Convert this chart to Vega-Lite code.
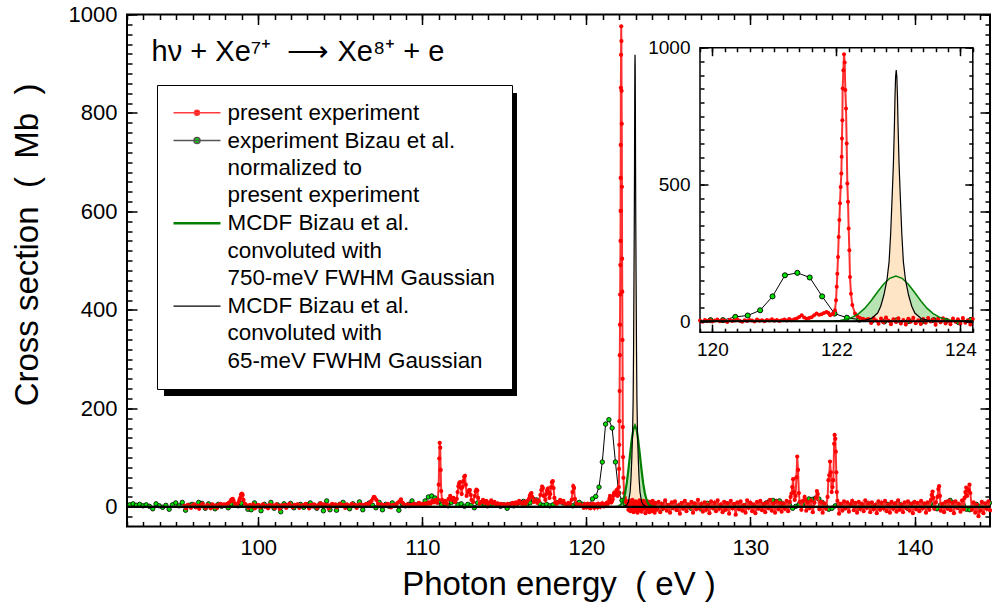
{
"$schema": "https://vega.github.io/schema/vega-lite/v6.json",
"width": 863, "height": 512,
"autosize": {"type": "none"},
"padding": {"left": 127, "top": 14.5, "right": 2, "bottom": 83.5},
"background": "white",
"config": {
  "view": {"stroke": "black", "strokeWidth": 2},
  "font": "Liberation Sans",
  "axis": {"domain": false, "grid": false, "labelFont": "Liberation Sans", "labelFontSize": 22, "labelColor": "black", "tickColor": "black", "tickWidth": 1.5, "titleFont": "Liberation Sans", "titleFontSize": 33, "titleFontWeight": "normal", "titleColor": "black", "labelOverlap": false, "labelFlush": false, "format": "d"},
  "style": {"guide-label": {"lineHeight": 27.4}}
},
"datasets": {
"leg": [{"s":"present experiment"},{"s":"experiment Bizau et al."},{"s":"MCDF 750 meV"},{"s":"MCDF 65 meV"}],
"g750": [{"E":92,"cs":0},{"E":119.8,"cs":0},{"E":121.76,"cs":0},{"E":121.96,"cs":1.2},{"E":122.06,"cs":3},{"E":122.16,"cs":7},{"E":122.26,"cs":15},{"E":122.36,"cs":28},{"E":122.46,"cs":48},{"E":122.56,"cs":75},{"E":122.66,"cs":106},{"E":122.76,"cs":135},{"E":122.86,"cs":157},{"E":122.96,"cs":165},{"E":123.06,"cs":157},{"E":123.16,"cs":135},{"E":123.26,"cs":106},{"E":123.36,"cs":75},{"E":123.46,"cs":48},{"E":123.56,"cs":28},{"E":123.66,"cs":15},{"E":123.76,"cs":7},{"E":123.86,"cs":3},{"E":123.96,"cs":1.2},{"E":124.16,"cs":0},{"E":124.2,"cs":0},{"E":144.6,"cs":0}],
"g65": [{"E":92,"cs":0},{"E":119.8,"cs":0},{"E":122.265,"cs":0},{"E":122.465,"cs":4},{"E":122.565,"cs":10},{"E":122.665,"cs":30},{"E":122.715,"cs":55},{"E":122.765,"cs":95},{"E":122.815,"cs":150},{"E":122.85,"cs":218},{"E":122.875,"cs":320},{"E":122.9,"cs":460},{"E":122.92,"cs":580},{"E":122.935,"cs":710},{"E":122.945,"cs":820},{"E":122.955,"cs":895},{"E":122.965,"cs":918},{"E":122.975,"cs":895},{"E":122.985,"cs":820},{"E":122.995,"cs":710},{"E":123.01,"cs":580},{"E":123.03,"cs":460},{"E":123.055,"cs":320},{"E":123.08,"cs":218},{"E":123.115,"cs":150},{"E":123.165,"cs":95},{"E":123.215,"cs":55},{"E":123.265,"cs":30},{"E":123.365,"cs":10},{"E":123.465,"cs":4},{"E":123.665,"cs":0},{"E":124.2,"cs":0},{"E":144.6,"cs":0}],
"biz": [{"E":92.17,"cs":4},{"E":92.37,"cs":6},{"E":92.57,"cs":3},{"E":92.77,"cs":5},{"E":92.97,"cs":2},{"E":93.17,"cs":4},{"E":93.37,"cs":1},{"E":93.57,"cs":-4},{"E":93.77,"cs":6},{"E":93.97,"cs":2},{"E":94.17,"cs":-1},{"E":94.37,"cs":3},{"E":94.57,"cs":-5},{"E":94.77,"cs":4},{"E":94.97,"cs":8},{"E":95.17,"cs":2},{"E":95.37,"cs":9},{"E":95.57,"cs":-7},{"E":95.77,"cs":3},{"E":95.97,"cs":5},{"E":96.17,"cs":1},{"E":96.37,"cs":9},{"E":96.57,"cs":7},{"E":96.77,"cs":-3},{"E":96.97,"cs":6},{"E":97.17,"cs":2},{"E":97.37,"cs":-4},{"E":97.57,"cs":5},{"E":97.77,"cs":1},{"E":97.97,"cs":3},{"E":98.17,"cs":-2},{"E":98.37,"cs":6},{"E":98.57,"cs":4},{"E":98.77,"cs":2},{"E":98.97,"cs":7},{"E":99.17,"cs":3},{"E":99.37,"cs":-5},{"E":99.57,"cs":-6},{"E":99.77,"cs":8},{"E":99.97,"cs":2},{"E":100.17,"cs":-8},{"E":100.37,"cs":5},{"E":100.57,"cs":1},{"E":100.77,"cs":9},{"E":100.97,"cs":-3},{"E":101.17,"cs":4},{"E":101.37,"cs":-10},{"E":101.57,"cs":6},{"E":101.77,"cs":2},{"E":101.97,"cs":7},{"E":102.17,"cs":-2},{"E":102.37,"cs":3},{"E":102.57,"cs":5},{"E":102.77,"cs":-1},{"E":102.97,"cs":4},{"E":103.17,"cs":8},{"E":103.37,"cs":2},{"E":103.57,"cs":-3},{"E":103.77,"cs":6},{"E":103.97,"cs":-8},{"E":104.17,"cs":12},{"E":104.37,"cs":-6},{"E":104.57,"cs":3},{"E":104.77,"cs":-7},{"E":104.97,"cs":5},{"E":105.17,"cs":9},{"E":105.37,"cs":2},{"E":105.57,"cs":-4},{"E":105.77,"cs":6},{"E":105.97,"cs":1},{"E":106.17,"cs":10},{"E":106.37,"cs":-6},{"E":106.57,"cs":4},{"E":106.77,"cs":8},{"E":106.97,"cs":3},{"E":107.17,"cs":-2},{"E":107.37,"cs":9},{"E":107.57,"cs":-6},{"E":107.77,"cs":5},{"E":107.97,"cs":1},{"E":108.17,"cs":8},{"E":108.37,"cs":3},{"E":108.57,"cs":-7},{"E":108.77,"cs":7},{"E":108.97,"cs":2},{"E":109.17,"cs":5},{"E":109.37,"cs":12},{"E":109.57,"cs":4},{"E":109.77,"cs":6},{"E":109.97,"cs":3},{"E":110.17,"cs":12},{"E":110.37,"cs":20},{"E":110.57,"cs":22},{"E":110.77,"cs":18},{"E":110.97,"cs":10},{"E":111.17,"cs":4},{"E":111.37,"cs":7},{"E":111.57,"cs":2},{"E":111.77,"cs":9},{"E":111.97,"cs":11},{"E":112.17,"cs":4},{"E":112.37,"cs":6},{"E":112.57,"cs":1},{"E":112.77,"cs":5},{"E":112.97,"cs":3},{"E":113.17,"cs":-2},{"E":113.37,"cs":8},{"E":113.57,"cs":4},{"E":113.77,"cs":6},{"E":113.97,"cs":2},{"E":114.17,"cs":7},{"E":114.37,"cs":3},{"E":114.57,"cs":5},{"E":114.77,"cs":1},{"E":114.97,"cs":4},{"E":115.17,"cs":-3},{"E":115.37,"cs":5},{"E":115.57,"cs":2},{"E":115.77,"cs":6},{"E":115.97,"cs":9},{"E":116.17,"cs":11},{"E":116.37,"cs":5},{"E":116.57,"cs":8},{"E":116.77,"cs":15},{"E":116.97,"cs":14},{"E":117.17,"cs":6},{"E":117.37,"cs":3},{"E":117.57,"cs":5},{"E":117.77,"cs":2},{"E":117.97,"cs":4},{"E":118.17,"cs":9},{"E":118.37,"cs":10},{"E":118.57,"cs":8},{"E":118.77,"cs":3},{"E":118.97,"cs":5},{"E":119.17,"cs":2},{"E":119.37,"cs":7},{"E":119.57,"cs":9},{"E":119.77,"cs":5},{"E":119.97,"cs":4},{"E":120.17,"cs":4},{"E":120.37,"cs":16},{"E":120.57,"cs":21},{"E":120.77,"cs":40},{"E":120.97,"cs":91},{"E":121.17,"cs":168},{"E":121.37,"cs":177},{"E":121.57,"cs":160},{"E":121.77,"cs":91},{"E":121.97,"cs":28},{"E":122.17,"cs":13},{"E":122.37,"cs":6},{"E":122.57,"cs":2},{"E":122.77,"cs":-1},{"E":122.97,"cs":3},{"E":123.17,"cs":1},{"E":123.37,"cs":-2},{"E":123.57,"cs":4},{"E":123.77,"cs":2},{"E":123.97,"cs":-3},{"E":124.17,"cs":5},{"E":124.37,"cs":1},{"E":124.57,"cs":-4},{"E":124.77,"cs":6},{"E":124.97,"cs":2},{"E":125.17,"cs":-2},{"E":125.37,"cs":4},{"E":125.57,"cs":-5},{"E":125.77,"cs":3},{"E":125.97,"cs":6},{"E":126.17,"cs":1},{"E":126.37,"cs":-3},{"E":126.57,"cs":5},{"E":126.77,"cs":2},{"E":126.97,"cs":-4},{"E":127.17,"cs":3},{"E":127.37,"cs":7},{"E":127.57,"cs":1},{"E":127.77,"cs":-2},{"E":127.97,"cs":4},{"E":128.17,"cs":2},{"E":128.37,"cs":-5},{"E":128.57,"cs":6},{"E":128.77,"cs":3},{"E":128.97,"cs":-1},{"E":129.17,"cs":5},{"E":129.37,"cs":2},{"E":129.57,"cs":-3},{"E":129.77,"cs":4},{"E":129.97,"cs":6},{"E":130.17,"cs":1},{"E":130.37,"cs":-2},{"E":130.57,"cs":5},{"E":130.77,"cs":3},{"E":130.97,"cs":8},{"E":131.17,"cs":12},{"E":131.37,"cs":13},{"E":131.57,"cs":11},{"E":131.77,"cs":12},{"E":131.97,"cs":6},{"E":132.17,"cs":2},{"E":132.37,"cs":4},{"E":132.57,"cs":-3},{"E":132.77,"cs":1},{"E":132.97,"cs":5},{"E":133.17,"cs":3},{"E":133.37,"cs":8},{"E":133.57,"cs":16},{"E":133.77,"cs":15},{"E":133.97,"cs":18},{"E":134.17,"cs":16},{"E":134.37,"cs":9},{"E":134.57,"cs":3},{"E":134.77,"cs":-5},{"E":134.97,"cs":-3},{"E":135.17,"cs":2},{"E":135.37,"cs":4},{"E":135.57,"cs":1},{"E":135.77,"cs":-2},{"E":135.97,"cs":3},{"E":136.17,"cs":5},{"E":136.37,"cs":1},{"E":136.57,"cs":-3},{"E":136.77,"cs":4},{"E":136.97,"cs":2},{"E":137.17,"cs":6},{"E":137.37,"cs":3},{"E":137.57,"cs":-1},{"E":137.77,"cs":4},{"E":137.97,"cs":2},{"E":138.17,"cs":-2},{"E":138.37,"cs":5},{"E":138.57,"cs":3},{"E":138.77,"cs":1},{"E":138.97,"cs":8},{"E":139.17,"cs":4},{"E":139.37,"cs":2},{"E":139.57,"cs":-3},{"E":139.77,"cs":5},{"E":139.97,"cs":7},{"E":140.17,"cs":3},{"E":140.37,"cs":-2},{"E":140.57,"cs":4},{"E":140.77,"cs":1},{"E":140.97,"cs":6},{"E":141.17,"cs":2},{"E":141.37,"cs":-4},{"E":141.57,"cs":3},{"E":141.77,"cs":5},{"E":141.97,"cs":9},{"E":142.17,"cs":13},{"E":142.37,"cs":8},{"E":142.57,"cs":3},{"E":142.77,"cs":-2},{"E":142.97,"cs":4},{"E":143.17,"cs":-5},{"E":143.37,"cs":-6},{"E":143.57,"cs":2},{"E":143.77,"cs":5},{"E":143.97,"cs":1},{"E":144.17,"cs":-3},{"E":144.37,"cs":4},{"E":144.57,"cs":8}],
"red": [{"E":95.5,"cs":2},{"E":95.6,"cs":-3},{"E":95.7,"cs":4},{"E":95.8,"cs":1},{"E":95.9,"cs":-2},{"E":96,"cs":3},{"E":96.1,"cs":5},{"E":96.2,"cs":-1},{"E":96.3,"cs":2},{"E":96.4,"cs":-4},{"E":96.5,"cs":3},{"E":96.6,"cs":6},{"E":96.7,"cs":1},{"E":96.8,"cs":-2},{"E":96.9,"cs":4},{"E":97,"cs":2},{"E":97.1,"cs":-3},{"E":97.2,"cs":5},{"E":97.3,"cs":0},{"E":97.4,"cs":3},{"E":97.5,"cs":-2},{"E":97.6,"cs":4},{"E":97.7,"cs":6},{"E":97.8,"cs":2},{"E":97.9,"cs":5},{"E":98,"cs":3},{"E":98.1,"cs":6},{"E":98.2,"cs":8},{"E":98.3,"cs":11},{"E":98.35,"cs":14},{"E":98.4,"cs":15},{"E":98.45,"cs":16},{"E":98.5,"cs":12},{"E":98.6,"cs":6},{"E":98.7,"cs":4},{"E":98.8,"cs":9},{"E":98.85,"cs":14},{"E":98.9,"cs":18},{"E":98.95,"cs":25},{"E":99,"cs":27},{"E":99.05,"cs":24},{"E":99.1,"cs":14},{"E":99.2,"cs":6},{"E":99.3,"cs":3},{"E":99.4,"cs":-2},{"E":99.5,"cs":4},{"E":99.6,"cs":1},{"E":99.7,"cs":5},{"E":99.8,"cs":-3},{"E":99.9,"cs":2},{"E":100,"cs":4},{"E":100.1,"cs":-1},{"E":100.2,"cs":3},{"E":100.3,"cs":5},{"E":100.4,"cs":0},{"E":100.5,"cs":2},{"E":100.6,"cs":-3},{"E":100.7,"cs":4},{"E":100.8,"cs":1},{"E":100.9,"cs":3},{"E":101,"cs":-2},{"E":101.1,"cs":5},{"E":101.2,"cs":2},{"E":101.3,"cs":-4},{"E":101.4,"cs":3},{"E":101.5,"cs":1},{"E":101.6,"cs":4},{"E":101.7,"cs":-2},{"E":101.8,"cs":3},{"E":101.9,"cs":6},{"E":102,"cs":2},{"E":102.1,"cs":-1},{"E":102.2,"cs":4},{"E":102.3,"cs":2},{"E":102.4,"cs":5},{"E":102.5,"cs":-2},{"E":102.6,"cs":3},{"E":102.7,"cs":1},{"E":102.8,"cs":4},{"E":102.9,"cs":6},{"E":103,"cs":2},{"E":103.1,"cs":-3},{"E":103.2,"cs":4},{"E":103.3,"cs":1},{"E":103.4,"cs":5},{"E":103.5,"cs":3},{"E":103.6,"cs":-2},{"E":103.7,"cs":4},{"E":103.8,"cs":7},{"E":103.9,"cs":2},{"E":104,"cs":5},{"E":104.1,"cs":1},{"E":104.2,"cs":4},{"E":104.3,"cs":-3},{"E":104.4,"cs":3},{"E":104.5,"cs":6},{"E":104.6,"cs":2},{"E":104.7,"cs":5},{"E":104.8,"cs":-1},{"E":104.9,"cs":3},{"E":105,"cs":6},{"E":105.1,"cs":2},{"E":105.2,"cs":4},{"E":105.3,"cs":-2},{"E":105.4,"cs":5},{"E":105.5,"cs":3},{"E":105.6,"cs":1},{"E":105.7,"cs":6},{"E":105.8,"cs":2},{"E":105.9,"cs":4},{"E":106,"cs":-2},{"E":106.1,"cs":3},{"E":106.2,"cs":5},{"E":106.3,"cs":1},{"E":106.4,"cs":4},{"E":106.5,"cs":2},{"E":106.6,"cs":6},{"E":106.7,"cs":3},{"E":106.8,"cs":8},{"E":106.9,"cs":12},{"E":107,"cs":17},{"E":107.05,"cs":20},{"E":107.1,"cs":19},{"E":107.2,"cs":14},{"E":107.3,"cs":6},{"E":107.4,"cs":3},{"E":107.5,"cs":5},{"E":107.6,"cs":1},{"E":107.7,"cs":4},{"E":107.8,"cs":2},{"E":107.9,"cs":6},{"E":108,"cs":3},{"E":108.1,"cs":-1},{"E":108.2,"cs":4},{"E":108.3,"cs":2},{"E":108.4,"cs":5},{"E":108.5,"cs":8},{"E":108.6,"cs":11},{"E":108.7,"cs":15},{"E":108.8,"cs":8},{"E":108.9,"cs":4},{"E":109,"cs":2},{"E":109.1,"cs":5},{"E":109.2,"cs":1},{"E":109.3,"cs":4},{"E":109.4,"cs":3},{"E":109.5,"cs":6},{"E":109.6,"cs":2},{"E":109.7,"cs":5},{"E":109.8,"cs":8},{"E":109.9,"cs":4},{"E":110,"cs":6},{"E":110.1,"cs":3},{"E":110.2,"cs":7},{"E":110.3,"cs":4},{"E":110.4,"cs":9},{"E":110.5,"cs":6},{"E":110.6,"cs":12},{"E":110.7,"cs":9},{"E":110.8,"cs":14},{"E":110.9,"cs":8},{"E":110.95,"cs":15},{"E":111,"cs":45},{"E":111.03,"cs":98},{"E":111.06,"cs":130},{"E":111.09,"cs":120},{"E":111.12,"cs":75},{"E":111.15,"cs":32},{"E":111.2,"cs":14},{"E":111.3,"cs":8},{"E":111.4,"cs":12},{"E":111.5,"cs":6},{"E":111.6,"cs":16},{"E":111.7,"cs":22},{"E":111.8,"cs":14},{"E":111.9,"cs":18},{"E":112,"cs":10},{"E":112.1,"cs":16},{"E":112.15,"cs":30},{"E":112.2,"cs":42},{"E":112.25,"cs":48},{"E":112.3,"cs":50},{"E":112.35,"cs":38},{"E":112.4,"cs":26},{"E":112.45,"cs":40},{"E":112.5,"cs":52},{"E":112.55,"cs":61},{"E":112.6,"cs":63},{"E":112.65,"cs":45},{"E":112.7,"cs":22},{"E":112.8,"cs":30},{"E":112.85,"cs":34},{"E":112.9,"cs":34},{"E":112.95,"cs":24},{"E":113,"cs":14},{"E":113.1,"cs":10},{"E":113.2,"cs":22},{"E":113.25,"cs":31},{"E":113.3,"cs":35},{"E":113.35,"cs":33},{"E":113.4,"cs":18},{"E":113.5,"cs":6},{"E":113.6,"cs":10},{"E":113.7,"cs":14},{"E":113.8,"cs":8},{"E":113.9,"cs":12},{"E":114,"cs":5},{"E":114.1,"cs":9},{"E":114.2,"cs":13},{"E":114.3,"cs":7},{"E":114.4,"cs":10},{"E":114.5,"cs":4},{"E":114.6,"cs":7},{"E":114.7,"cs":3},{"E":114.8,"cs":6},{"E":114.9,"cs":2},{"E":115,"cs":5},{"E":115.1,"cs":3},{"E":115.2,"cs":6},{"E":115.3,"cs":2},{"E":115.4,"cs":5},{"E":115.5,"cs":8},{"E":115.6,"cs":4},{"E":115.7,"cs":9},{"E":115.8,"cs":6},{"E":115.9,"cs":12},{"E":116,"cs":8},{"E":116.1,"cs":5},{"E":116.2,"cs":10},{"E":116.3,"cs":6},{"E":116.4,"cs":12},{"E":116.5,"cs":16},{"E":116.55,"cs":22},{"E":116.6,"cs":26},{"E":116.65,"cs":28},{"E":116.7,"cs":20},{"E":116.8,"cs":10},{"E":116.9,"cs":14},{"E":117,"cs":8},{"E":117.1,"cs":12},{"E":117.2,"cs":24},{"E":117.25,"cs":34},{"E":117.3,"cs":41},{"E":117.35,"cs":38},{"E":117.4,"cs":22},{"E":117.5,"cs":14},{"E":117.55,"cs":26},{"E":117.6,"cs":33},{"E":117.65,"cs":37},{"E":117.7,"cs":30},{"E":117.75,"cs":18},{"E":117.8,"cs":26},{"E":117.85,"cs":40},{"E":117.9,"cs":50},{"E":117.95,"cs":52},{"E":118,"cs":38},{"E":118.05,"cs":18},{"E":118.1,"cs":9},{"E":118.2,"cs":6},{"E":118.3,"cs":10},{"E":118.4,"cs":14},{"E":118.5,"cs":9},{"E":118.6,"cs":12},{"E":118.7,"cs":6},{"E":118.8,"cs":4},{"E":118.9,"cs":8},{"E":119,"cs":6},{"E":119.1,"cs":14},{"E":119.15,"cs":30},{"E":119.2,"cs":42},{"E":119.25,"cs":38},{"E":119.3,"cs":16},{"E":119.4,"cs":6},{"E":119.5,"cs":3},{"E":119.6,"cs":5},{"E":119.7,"cs":2},{"E":119.8,"cs":3},{"E":119.84,"cs":-2},{"E":119.88,"cs":5},{"E":119.92,"cs":1},{"E":119.96,"cs":4},{"E":120,"cs":-1},{"E":120.04,"cs":3},{"E":120.08,"cs":6},{"E":120.12,"cs":0},{"E":120.16,"cs":4},{"E":120.2,"cs":2},{"E":120.24,"cs":-3},{"E":120.28,"cs":5},{"E":120.32,"cs":1},{"E":120.36,"cs":3},{"E":120.4,"cs":6},{"E":120.44,"cs":2},{"E":120.48,"cs":-2},{"E":120.52,"cs":4},{"E":120.56,"cs":1},{"E":120.6,"cs":5},{"E":120.64,"cs":3},{"E":120.68,"cs":-1},{"E":120.72,"cs":6},{"E":120.76,"cs":2},{"E":120.8,"cs":4},{"E":120.84,"cs":0},{"E":120.88,"cs":5},{"E":120.92,"cs":3},{"E":120.96,"cs":7},{"E":121,"cs":2},{"E":121.04,"cs":5},{"E":121.08,"cs":1},{"E":121.12,"cs":4},{"E":121.16,"cs":6},{"E":121.2,"cs":3},{"E":121.24,"cs":8},{"E":121.28,"cs":4},{"E":121.32,"cs":7},{"E":121.36,"cs":10},{"E":121.4,"cs":16},{"E":121.44,"cs":22},{"E":121.48,"cs":14},{"E":121.52,"cs":9},{"E":121.56,"cs":12},{"E":121.6,"cs":15},{"E":121.64,"cs":22},{"E":121.68,"cs":28},{"E":121.72,"cs":24},{"E":121.76,"cs":26},{"E":121.8,"cs":30},{"E":121.84,"cs":34},{"E":121.87,"cs":30},{"E":121.9,"cs":22},{"E":121.93,"cs":26},{"E":121.95,"cs":28},{"E":121.977,"cs":40},{"E":121.994,"cs":77},{"E":122.005,"cs":126},{"E":122.015,"cs":174},{"E":122.026,"cs":235},{"E":122.037,"cs":308},{"E":122.048,"cs":370},{"E":122.058,"cs":431},{"E":122.069,"cs":491},{"E":122.08,"cs":540},{"E":122.085,"cs":601},{"E":122.09,"cs":668},{"E":122.096,"cs":735},{"E":122.101,"cs":851},{"E":122.112,"cs":918},{"E":122.123,"cs":976},{"E":122.134,"cs":946},{"E":122.144,"cs":845},{"E":122.155,"cs":778},{"E":122.166,"cs":650},{"E":122.176,"cs":504},{"E":122.187,"cs":437},{"E":122.198,"cs":339},{"E":122.209,"cs":260},{"E":122.219,"cs":162},{"E":122.235,"cs":101},{"E":122.257,"cs":59},{"E":122.3,"cs":28},{"E":122.34,"cs":18},{"E":122.381,"cs":12},{"E":122.43,"cs":9},{"E":122.489,"cs":6},{"E":122.52,"cs":8},{"E":122.56,"cs":-6},{"E":122.6,"cs":12},{"E":122.64,"cs":3},{"E":122.68,"cs":-9},{"E":122.72,"cs":10},{"E":122.76,"cs":-4},{"E":122.8,"cs":14},{"E":122.84,"cs":2},{"E":122.88,"cs":-11},{"E":122.92,"cs":7},{"E":122.96,"cs":-3},{"E":123,"cs":11},{"E":123.04,"cs":-8},{"E":123.08,"cs":5},{"E":123.12,"cs":-12},{"E":123.16,"cs":9},{"E":123.2,"cs":-2},{"E":123.24,"cs":13},{"E":123.28,"cs":-7},{"E":123.32,"cs":4},{"E":123.36,"cs":-10},{"E":123.4,"cs":8},{"E":123.44,"cs":-5},{"E":123.48,"cs":12},{"E":123.52,"cs":-1},{"E":123.56,"cs":6},{"E":123.6,"cs":-13},{"E":123.64,"cs":9},{"E":123.68,"cs":-4},{"E":123.72,"cs":11},{"E":123.76,"cs":-8},{"E":123.8,"cs":3},{"E":123.84,"cs":-11},{"E":123.88,"cs":10},{"E":123.92,"cs":-2},{"E":123.96,"cs":7},{"E":124,"cs":-9},{"E":124.04,"cs":12},{"E":124.08,"cs":-5},{"E":124.12,"cs":4},{"E":124.16,"cs":-12},{"E":124.2,"cs":8},{"E":124.3,"cs":-6},{"E":124.4,"cs":10},{"E":124.5,"cs":-11},{"E":124.6,"cs":6},{"E":124.7,"cs":-3},{"E":124.8,"cs":13},{"E":124.9,"cs":-8},{"E":125,"cs":4},{"E":125.1,"cs":-12},{"E":125.2,"cs":9},{"E":125.3,"cs":-2},{"E":125.4,"cs":11},{"E":125.5,"cs":-7},{"E":125.6,"cs":3},{"E":125.7,"cs":-14},{"E":125.8,"cs":8},{"E":125.9,"cs":-4},{"E":126,"cs":12},{"E":126.1,"cs":-9},{"E":126.2,"cs":5},{"E":126.3,"cs":-1},{"E":126.4,"cs":10},{"E":126.5,"cs":-12},{"E":126.6,"cs":7},{"E":126.7,"cs":-5},{"E":126.8,"cs":14},{"E":126.9,"cs":-3},{"E":127,"cs":6},{"E":127.1,"cs":-10},{"E":127.2,"cs":9},{"E":127.3,"cs":-6},{"E":127.4,"cs":4},{"E":127.5,"cs":-13},{"E":127.6,"cs":11},{"E":127.7,"cs":-2},{"E":127.8,"cs":8},{"E":127.9,"cs":-9},{"E":128,"cs":13},{"E":128.1,"cs":-4},{"E":128.2,"cs":5},{"E":128.3,"cs":-11},{"E":128.4,"cs":10},{"E":128.5,"cs":-6},{"E":128.6,"cs":7},{"E":128.7,"cs":-14},{"E":128.8,"cs":12},{"E":128.9,"cs":-3},{"E":129,"cs":6},{"E":129.1,"cs":-16},{"E":129.2,"cs":9},{"E":129.3,"cs":-5},{"E":129.4,"cs":11},{"E":129.5,"cs":-8},{"E":129.6,"cs":4},{"E":129.7,"cs":-12},{"E":129.8,"cs":13},{"E":129.9,"cs":-2},{"E":130,"cs":8},{"E":130.1,"cs":-9},{"E":130.2,"cs":5},{"E":130.3,"cs":-13},{"E":130.4,"cs":10},{"E":130.5,"cs":-4},{"E":130.6,"cs":12},{"E":130.7,"cs":-7},{"E":130.8,"cs":6},{"E":130.9,"cs":-11},{"E":131,"cs":9},{"E":131.1,"cs":-3},{"E":131.2,"cs":14},{"E":131.3,"cs":-8},{"E":131.4,"cs":7},{"E":131.5,"cs":-12},{"E":131.6,"cs":11},{"E":131.7,"cs":-5},{"E":131.8,"cs":8},{"E":131.9,"cs":-10},{"E":132,"cs":6},{"E":132.1,"cs":-4},{"E":132.2,"cs":12},{"E":132.3,"cs":-9},{"E":132.4,"cs":10},{"E":132.45,"cs":20},{"E":132.5,"cs":27},{"E":132.55,"cs":40},{"E":132.6,"cs":56},{"E":132.65,"cs":30},{"E":132.7,"cs":14},{"E":132.75,"cs":22},{"E":132.8,"cs":60},{"E":132.85,"cs":102},{"E":132.9,"cs":75},{"E":132.95,"cs":28},{"E":133,"cs":10},{"E":133.1,"cs":-6},{"E":133.2,"cs":12},{"E":133.3,"cs":20},{"E":133.35,"cs":14},{"E":133.4,"cs":-8},{"E":133.5,"cs":9},{"E":133.6,"cs":-3},{"E":133.7,"cs":13},{"E":133.8,"cs":-11},{"E":133.9,"cs":8},{"E":134,"cs":18},{"E":134.05,"cs":32},{"E":134.1,"cs":26},{"E":134.2,"cs":-5},{"E":134.3,"cs":10},{"E":134.4,"cs":-12},{"E":134.5,"cs":7},{"E":134.6,"cs":-4},{"E":134.7,"cs":20},{"E":134.75,"cs":54},{"E":134.8,"cs":64},{"E":134.85,"cs":92},{"E":134.9,"cs":70},{"E":134.95,"cs":30},{"E":135,"cs":40},{"E":135.05,"cs":54},{"E":135.1,"cs":128},{"E":135.13,"cs":146},{"E":135.17,"cs":138},{"E":135.2,"cs":112},{"E":135.23,"cs":70},{"E":135.26,"cs":30},{"E":135.3,"cs":12},{"E":135.4,"cs":-14},{"E":135.5,"cs":6},{"E":135.6,"cs":-8},{"E":135.7,"cs":11},{"E":135.8,"cs":-3},{"E":135.9,"cs":9},{"E":136,"cs":-10},{"E":136.1,"cs":5},{"E":136.2,"cs":12},{"E":136.3,"cs":-7},{"E":136.4,"cs":8},{"E":136.5,"cs":-12},{"E":136.6,"cs":10},{"E":136.7,"cs":-4},{"E":136.8,"cs":6},{"E":136.9,"cs":-9},{"E":137,"cs":13},{"E":137.1,"cs":-2},{"E":137.2,"cs":7},{"E":137.3,"cs":-11},{"E":137.4,"cs":9},{"E":137.5,"cs":-5},{"E":137.6,"cs":4},{"E":137.7,"cs":-13},{"E":137.8,"cs":11},{"E":137.9,"cs":-6},{"E":138,"cs":8},{"E":138.1,"cs":-3},{"E":138.2,"cs":12},{"E":138.3,"cs":-9},{"E":138.4,"cs":5},{"E":138.5,"cs":-12},{"E":138.6,"cs":10},{"E":138.7,"cs":-4},{"E":138.8,"cs":7},{"E":138.9,"cs":-10},{"E":139,"cs":13},{"E":139.1,"cs":-6},{"E":139.2,"cs":4},{"E":139.3,"cs":-11},{"E":139.4,"cs":9},{"E":139.5,"cs":-2},{"E":139.6,"cs":11},{"E":139.7,"cs":-8},{"E":139.8,"cs":6},{"E":139.9,"cs":-13},{"E":140,"cs":10},{"E":140.1,"cs":-5},{"E":140.2,"cs":8},{"E":140.3,"cs":-9},{"E":140.4,"cs":12},{"E":140.5,"cs":-3},{"E":140.6,"cs":7},{"E":140.7,"cs":-12},{"E":140.8,"cs":9},{"E":140.9,"cs":-6},{"E":141,"cs":14},{"E":141.05,"cs":24},{"E":141.1,"cs":31},{"E":141.15,"cs":18},{"E":141.2,"cs":-4},{"E":141.3,"cs":9},{"E":141.4,"cs":20},{"E":141.45,"cs":36},{"E":141.5,"cs":42},{"E":141.55,"cs":22},{"E":141.6,"cs":-8},{"E":141.7,"cs":6},{"E":141.8,"cs":-11},{"E":141.9,"cs":10},{"E":142,"cs":-4},{"E":142.1,"cs":12},{"E":142.2,"cs":-7},{"E":142.3,"cs":8},{"E":142.4,"cs":-13},{"E":142.5,"cs":11},{"E":142.6,"cs":-2},{"E":142.7,"cs":6},{"E":142.8,"cs":-10},{"E":142.9,"cs":13},{"E":143,"cs":-5},{"E":143.05,"cs":18},{"E":143.1,"cs":30},{"E":143.15,"cs":39},{"E":143.2,"cs":22},{"E":143.3,"cs":34},{"E":143.35,"cs":45},{"E":143.4,"cs":28},{"E":143.5,"cs":-6},{"E":143.6,"cs":9},{"E":143.7,"cs":-12},{"E":143.8,"cs":4},{"E":143.9,"cs":-19},{"E":144,"cs":-8},{"E":144.1,"cs":10},{"E":144.2,"cs":-13},{"E":144.3,"cs":7},{"E":144.4,"cs":-4},{"E":144.5,"cs":11},{"E":144.6,"cs":-7}]
},
"layer": [
{
 "layer": [
  {"data": {"values": [{}]}, "mark": {"type": "rect", "fill": "black"},
   "encoding": {
    "x": {"datum": 94.255, "type": "quantitative", "scale": {"domain": [92, 144.6], "nice": false, "zero": false}, "axis": null},
    "x2": {"datum": 115.77},
    "y": {"datum": 225, "type": "quantitative", "scale": {"domain": [-40, 1000], "nice": false, "zero": false}, "axis": null},
    "y2": {"datum": 840.5}}},
  {"data": {"name": "g750"}, "mark": {"type": "area", "color": "#b8e4b4", "opacity": 1},
   "encoding": {
    "x": {"field": "E", "type": "quantitative", "scale": {"domain": [92, 144.6], "nice": false, "zero": false},
      "axis": {"orient": "bottom", "values": [100,110,120,130,140], "tickSize": -10, "labelPadding": 21, "title": "Photon energy\u00a0\u00a0(\u00a0eV\u00a0)", "titlePadding": 10}},
    "y": {"field": "cs", "type": "quantitative", "scale": {"domain": [-40, 1000], "nice": false, "zero": false},
      "axis": {"orient": "left", "values": [0,200,400,600,800,1000], "tickSize": -10, "labelPadding": 20, "title": "Cross section\u00a0\u00a0(\u00a0\u00a0Mb\u00a0\u00a0)", "titlePadding": 24, "titleY": 230}}}},
  {"data": {"name": "g65"}, "mark": {"type": "area", "color": "#fde5c6", "opacity": 1},
   "encoding": {
    "x": {"field": "E", "type": "quantitative", "scale": {"domain": [92, 144.6], "nice": false, "zero": false},
      "axis": {"orient": "bottom", "values": [92,93,94,95,96,97,98,99,100,101,102,103,104,105,106,107,108,109,110,111,112,113,114,115,116,117,118,119,120,121,122,123,124,125,126,127,128,129,130,131,132,133,134,135,136,137,138,139,140,141,142,143,144], "tickSize": -5, "labels": false, "title": null}},
    "y": {"field": "cs", "type": "quantitative", "scale": {"domain": [-40, 1000], "nice": false, "zero": false},
      "axis": {"orient": "left", "values": [-20,0,20,40,60,80,100,120,140,160,180,200,220,240,260,280,300,320,340,360,380,400,420,440,460,480,500,520,540,560,580,600,620,640,660,680,700,720,740,760,780,800,820,840,860,880,900,920,940,960,980,1000], "tickSize": -5, "labels": false, "title": null}}}},
  {"data": {"name": "biz"}, "mark": {"type": "line", "color": "black", "strokeWidth": 1},
   "encoding": {
    "x": {"field": "E", "type": "quantitative", "scale": {"domain": [92, 144.6], "nice": false, "zero": false},
      "axis": {"orient": "top", "values": [100,110,120,130,140], "tickSize": -10, "labels": false, "title": null}},
    "y": {"field": "cs", "type": "quantitative", "scale": {"domain": [-40, 1000], "nice": false, "zero": false},
      "axis": {"orient": "right", "values": [0,200,400,600,800,1000], "tickSize": -10, "labels": false, "title": null}}}},
  {"data": {"name": "biz"}, "mark": {"type": "point", "filled": true, "fill": "#00e000", "stroke": "black", "strokeWidth": 0.8, "size": 20, "opacity": 1},
   "encoding": {
    "x": {"field": "E", "type": "quantitative", "scale": {"domain": [92, 144.6], "nice": false, "zero": false},
      "axis": {"orient": "top", "values": [92,93,94,95,96,97,98,99,100,101,102,103,104,105,106,107,108,109,110,111,112,113,114,115,116,117,118,119,120,121,122,123,124,125,126,127,128,129,130,131,132,133,134,135,136,137,138,139,140,141,142,143,144], "tickSize": -5, "labels": false, "title": null}},
    "y": {"field": "cs", "type": "quantitative", "scale": {"domain": [-40, 1000], "nice": false, "zero": false},
      "axis": {"orient": "right", "values": [-20,0,20,40,60,80,100,120,140,160,180,200,220,240,260,280,300,320,340,360,380,400,420,440,460,480,500,520,540,560,580,600,620,640,660,680,700,720,740,760,780,800,820,840,860,880,900,920,940,960,980,1000], "tickSize": -5, "labels": false, "title": null}}}},
  {"data": {"name": "red"}, "mark": {"type": "line", "color": "#ff3030", "strokeWidth": 2},
   "encoding": {
    "x": {"field": "E", "type": "quantitative", "scale": {"domain": [92, 144.6], "nice": false, "zero": false}, "axis": null},
    "y": {"field": "cs", "type": "quantitative", "scale": {"domain": [-40, 1000], "nice": false, "zero": false}, "axis": null}}},
  {"data": {"name": "red"}, "mark": {"type": "point", "filled": true, "color": "#ff0000", "size": 18, "opacity": 1},
   "encoding": {
    "x": {"field": "E", "type": "quantitative", "scale": {"domain": [92, 144.6], "nice": false, "zero": false}, "axis": null},
    "y": {"field": "cs", "type": "quantitative", "scale": {"domain": [-40, 1000], "nice": false, "zero": false}, "axis": null}}},
  {"data": {"name": "g750"}, "mark": {"type": "line", "color": "#008000", "strokeWidth": 2.2},
   "encoding": {
    "x": {"field": "E", "type": "quantitative", "scale": {"domain": [92, 144.6], "nice": false, "zero": false}, "axis": null},
    "y": {"field": "cs", "type": "quantitative", "scale": {"domain": [-40, 1000], "nice": false, "zero": false}, "axis": null}}},
  {"data": {"name": "g65"}, "mark": {"type": "line", "color": "black", "strokeWidth": 1.2},
   "encoding": {
    "x": {"field": "E", "type": "quantitative", "scale": {"domain": [92, 144.6], "nice": false, "zero": false}, "axis": null},
    "y": {"field": "cs", "type": "quantitative", "scale": {"domain": [-40, 1000], "nice": false, "zero": false}, "axis": null}}},
  {"data": {"values": [{}]}, "mark": {"type": "rule", "color": "black", "strokeWidth": 2.2},
   "encoding": {
    "y": {"datum": 0, "type": "quantitative", "scale": {"domain": [-40, 1000], "nice": false, "zero": false}, "axis": null}}},
  {"data": {"values": [{}]}, "mark": {"type": "text", "text": "h\u03bd + Xe\u2077\u207a \u00a0\u27f6 Xe\u2078\u207a + e", "align": "left", "baseline": "alphabetic", "font": "Liberation Sans", "fontSize": 29, "color": "black"},
   "encoding": {
    "x": {"datum": 93.5, "type": "quantitative", "scale": {"domain": [92, 144.6], "nice": false, "zero": false}, "axis": null},
    "y": {"datum": 905, "type": "quantitative", "scale": {"domain": [-40, 1000], "nice": false, "zero": false}, "axis": null}}},
  {"data": {"name": "leg"}, "mark": {"type": "point", "opacity": 0},
   "encoding": {
    "shape": {"field": "s", "type": "nominal",
      "scale": {"domain": ["present experiment", "experiment Bizau et al.", "MCDF 750 meV", "MCDF 65 meV"],
        "range": ["M-2.24,0H7.16M2.96,0A0.5,0.5,0,1,1,1.96,0A0.5,0.5,0,1,1,2.96,0Z", "M-2.24,0H7.16M3.06,0A0.6,0.6,0,1,1,1.86,0A0.6,0.6,0,1,1,3.06,0Z", "M-2.24,0H7.16", "M-2.24,0H7.16"]},
      "legend": {"orient": "none", "legendX": 30, "legendY": 70.5, "title": null, "direction": "vertical",
        "labelExpr": "datum.value == 'present experiment' ? 'present experiment' : datum.value == 'experiment Bizau et al.' ? ['experiment Bizau et al.', 'normalized to', 'present experiment'] : datum.value == 'MCDF 750 meV' ? ['MCDF Bizau et al.', 'convoluted with', '750-meV FWHM Gaussian'] : ['MCDF Bizau et al.', 'convoluted with', '65-meV FWHM Gaussian']",
        "symbolSize": 100, "symbolOpacity": 1, "labelBaseline": "middle", "labelFont": "Liberation Sans", "labelFontSize": 22.4, "labelColor": "black", "labelLimit": 0, "labelOffset": 31.6, "padding": 16.5, "rowPadding": 4.8, "fillColor": "white", "strokeColor": "black"}},
    "stroke": {"field": "s", "type": "nominal",
      "scale": {"domain": ["present experiment", "experiment Bizau et al.", "MCDF 750 meV", "MCDF 65 meV"], "range": ["#ff3a3a", "#555555", "#008000", "#000000"]}},
    "fill": {"field": "s", "type": "nominal",
      "scale": {"domain": ["present experiment", "experiment Bizau et al.", "MCDF 750 meV", "MCDF 65 meV"], "range": ["#ff0000", "#00e000", "transparent", "transparent"]}},
    "strokeWidth": {"field": "s", "type": "nominal",
      "scale": {"type": "ordinal", "domain": ["present experiment", "experiment Bizau et al.", "MCDF 750 meV", "MCDF 65 meV"], "range": [1.5, 1.5, 2.5, 1.2]}}}}
 ],
 "resolve": {"axis": {"x": "independent", "y": "independent"}}
},
{
 "layer": [
  {"data": {"values": [{}]}, "mark": {"type": "rect", "fill": "white", "stroke": "black", "strokeWidth": 1.5},
   "encoding": {
    "x": {"datum": 119.8, "type": "quantitative", "scale": {"domain": [119.8, 124.2], "range": [573, 845.8], "nice": false, "zero": false}, "axis": null},
    "x2": {"datum": 124.2},
    "y": {"datum": -40, "type": "quantitative", "scale": {"domain": [-40, 1000], "range": [317.7, 33.2], "nice": false, "zero": false}, "axis": null},
    "y2": {"datum": 1000}}},
  {"data": {"name": "g750"}, "transform": [{"filter": "datum.E >= 119.8 && datum.E <= 124.2"}], "mark": {"type": "area", "color": "#b8e4b4", "opacity": 1},
   "encoding": {
    "x": {"field": "E", "type": "quantitative", "scale": {"domain": [119.8, 124.2], "range": [573, 845.8], "nice": false, "zero": false},
      "axis": {"orient": "bottom", "offset": -194.3, "values": [120,122,124], "tickSize": -8, "labelPadding": 16, "labelFontSize": 19, "title": null, "zindex": 1}},
    "y": {"field": "cs", "type": "quantitative", "scale": {"domain": [-40, 1000], "range": [317.7, 33.2], "nice": false, "zero": false},
      "axis": {"orient": "left", "offset": -573, "values": [0,500,1000], "tickSize": -8, "labelPadding": 18, "labelFontSize": 19, "title": null, "zindex": 1}}}},
  {"data": {"name": "g65"}, "transform": [{"filter": "datum.E >= 119.8 && datum.E <= 124.2"}], "mark": {"type": "area", "color": "#fde5c6", "opacity": 1},
   "encoding": {
    "x": {"field": "E", "type": "quantitative", "scale": {"domain": [119.8, 124.2], "range": [573, 845.8], "nice": false, "zero": false},
      "axis": {"orient": "bottom", "offset": -194.3, "values": [119.8,120,120.2,120.4,120.6,120.8,121,121.2,121.4,121.6,121.8,122,122.2,122.4,122.6,122.8,123,123.2,123.4,123.6,123.8,124,124.2], "tickSize": -4, "labels": false, "title": null, "zindex": 1}},
    "y": {"field": "cs", "type": "quantitative", "scale": {"domain": [-40, 1000], "range": [317.7, 33.2], "nice": false, "zero": false},
      "axis": {"orient": "left", "offset": -573, "values": [0,50,100,150,200,250,300,350,400,450,500,550,600,650,700,750,800,850,900,950,1000], "tickSize": -4, "labels": false, "title": null, "zindex": 1}}}},
  {"data": {"name": "biz"}, "transform": [{"filter": "datum.E >= 119.8 && datum.E <= 124.2"}], "mark": {"type": "line", "color": "black", "strokeWidth": 1},
   "encoding": {
    "x": {"field": "E", "type": "quantitative", "scale": {"domain": [119.8, 124.2], "range": [573, 845.8], "nice": false, "zero": false},
      "axis": {"orient": "top", "offset": -33.2, "values": [120,122,124], "tickSize": -8, "labels": false, "title": null, "zindex": 1}},
    "y": {"field": "cs", "type": "quantitative", "scale": {"domain": [-40, 1000], "range": [317.7, 33.2], "nice": false, "zero": false},
      "axis": {"orient": "right", "offset": -17.2, "values": [0,500,1000], "tickSize": -8, "labels": false, "title": null, "zindex": 1}}}},
  {"data": {"name": "biz"}, "transform": [{"filter": "datum.E >= 119.8 && datum.E <= 124.2"}], "mark": {"type": "point", "filled": true, "fill": "#00e000", "stroke": "black", "strokeWidth": 0.9, "size": 26, "opacity": 1},
   "encoding": {
    "x": {"field": "E", "type": "quantitative", "scale": {"domain": [119.8, 124.2], "range": [573, 845.8], "nice": false, "zero": false},
      "axis": {"orient": "top", "offset": -33.2, "values": [119.8,120,120.2,120.4,120.6,120.8,121,121.2,121.4,121.6,121.8,122,122.2,122.4,122.6,122.8,123,123.2,123.4,123.6,123.8,124,124.2], "tickSize": -4, "labels": false, "title": null, "zindex": 1}},
    "y": {"field": "cs", "type": "quantitative", "scale": {"domain": [-40, 1000], "range": [317.7, 33.2], "nice": false, "zero": false},
      "axis": {"orient": "right", "offset": -17.2, "values": [0,50,100,150,200,250,300,350,400,450,500,550,600,650,700,750,800,850,900,950,1000], "tickSize": -4, "labels": false, "title": null, "zindex": 1}}}},
  {"data": {"name": "red"}, "transform": [{"filter": "datum.E >= 119.8 && datum.E <= 124.2"}], "mark": {"type": "line", "color": "#ff3030", "strokeWidth": 2},
   "encoding": {
    "x": {"field": "E", "type": "quantitative", "scale": {"domain": [119.8, 124.2], "range": [573, 845.8], "nice": false, "zero": false}, "axis": null},
    "y": {"field": "cs", "type": "quantitative", "scale": {"domain": [-40, 1000], "range": [317.7, 33.2], "nice": false, "zero": false}, "axis": null}}},
  {"data": {"name": "red"}, "transform": [{"filter": "datum.E >= 119.8 && datum.E <= 124.2"}], "mark": {"type": "point", "filled": true, "color": "#ff0000", "size": 16, "opacity": 1},
   "encoding": {
    "x": {"field": "E", "type": "quantitative", "scale": {"domain": [119.8, 124.2], "range": [573, 845.8], "nice": false, "zero": false}, "axis": null},
    "y": {"field": "cs", "type": "quantitative", "scale": {"domain": [-40, 1000], "range": [317.7, 33.2], "nice": false, "zero": false}, "axis": null}}},
  {"data": {"name": "g750"}, "transform": [{"filter": "datum.E >= 119.8 && datum.E <= 124.2"}], "mark": {"type": "line", "color": "#008000", "strokeWidth": 1.5},
   "encoding": {
    "x": {"field": "E", "type": "quantitative", "scale": {"domain": [119.8, 124.2], "range": [573, 845.8], "nice": false, "zero": false}, "axis": null},
    "y": {"field": "cs", "type": "quantitative", "scale": {"domain": [-40, 1000], "range": [317.7, 33.2], "nice": false, "zero": false}, "axis": null}}},
  {"data": {"name": "g65"}, "transform": [{"filter": "datum.E >= 119.8 && datum.E <= 124.2"}], "mark": {"type": "line", "color": "black", "strokeWidth": 1.2},
   "encoding": {
    "x": {"field": "E", "type": "quantitative", "scale": {"domain": [119.8, 124.2], "range": [573, 845.8], "nice": false, "zero": false}, "axis": null},
    "y": {"field": "cs", "type": "quantitative", "scale": {"domain": [-40, 1000], "range": [317.7, 33.2], "nice": false, "zero": false}, "axis": null}}},
  {"data": {"values": [{}]}, "mark": {"type": "rule", "color": "black", "strokeWidth": 2},
   "encoding": {
    "x": {"datum": 119.8, "type": "quantitative", "scale": {"domain": [119.8, 124.2], "range": [573, 845.8], "nice": false, "zero": false}, "axis": null},
    "x2": {"datum": 124.2},
    "y": {"datum": 0, "type": "quantitative", "scale": {"domain": [-40, 1000], "range": [317.7, 33.2], "nice": false, "zero": false}, "axis": null}}}
 ]
}
],
"resolve": {"scale": {"x": "independent", "y": "independent"}, "axis": {"x": "independent", "y": "independent"}}
}
